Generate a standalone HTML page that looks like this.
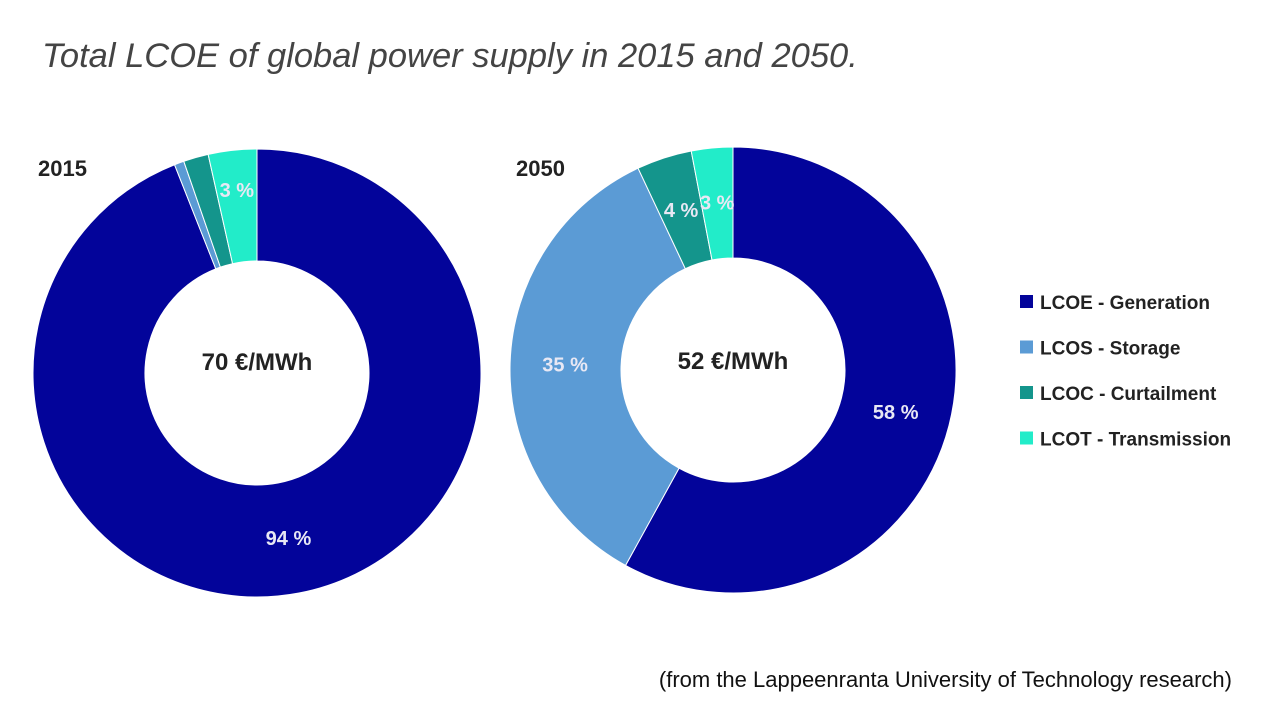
<!DOCTYPE html>
<html><head><meta charset="utf-8"><style>
body{margin:0;width:1280px;height:720px;background:#fff;overflow:hidden;font-family:"Liberation Sans",sans-serif}
</style></head><body>
<svg id="c" width="1280" height="720">
<text x="42" y="67" font-size="34.5" font-style="italic" fill="#444">Total LCOE of global power supply in 2015 and 2050.</text>
<text x="38" y="176" font-size="22" font-weight="bold" fill="#222">2015</text>
<text x="516" y="176" font-size="22" font-weight="bold" fill="#222">2050</text>
<text x="257" y="370" font-size="24" font-weight="bold" fill="#222" text-anchor="middle">70 €/MWh</text>
<text x="733" y="369" font-size="24" font-weight="bold" fill="#222" text-anchor="middle">52 €/MWh</text>
<text x="1232" y="687" font-size="22" fill="#111" text-anchor="end">(from the Lappeenranta University of Technology research)</text>
<g id="legend"></g>
</svg>
<script>
const categories=["LCOE - Generation","LCOS - Storage","LCOC - Curtailment","LCOT - Transmission"];
const colors=["#03049a","#5b9bd5","#14958c","#22ecc9"];
const values2015=[94,0.7,1.8,3.5];
const labels2015=["94 %","","","3 %"];
const values2050=[58,35,4,3];
const labels2050=["58 %","35 %","4 %","3 %"];
const NS="http://www.w3.org/2000/svg";
const svg=document.getElementById('c');
function donut(cx,cy,ro,ri,vals,labs,yr,smallR){
  const tot=vals.reduce((a,b)=>a+b,0);let a0=0;
  vals.forEach((v,i)=>{
    const a1=a0+v/tot*2*Math.PI;
    const p=(a,r)=>[cx+r*Math.sin(a),cy-r*Math.cos(a)];
    const [x1,y1]=p(a0,ro),[x2,y2]=p(a1,ro),[x3,y3]=p(a1,ri),[x4,y4]=p(a0,ri);
    const lg=(a1-a0)>Math.PI?1:0;
    const path=document.createElementNS(NS,'path');
    path.setAttribute('d',`M${x1},${y1}A${ro},${ro} 0 ${lg} 1 ${x2},${y2}L${x3},${y3}A${ri},${ri} 0 ${lg} 0 ${x4},${y4}Z`);
    path.setAttribute('fill',colors[i]);path.setAttribute('stroke','#fff');path.setAttribute('stroke-width','1');
    
    
    svg.appendChild(path);
    if(labs[i]){
      const am=(a0+a1)/2,rm=(v<6)?smallR:168;
      const [tx,ty]=p(am,rm);
      const t=document.createElementNS(NS,'text');
      t.setAttribute('x',tx);t.setAttribute('y',ty+7);t.setAttribute('text-anchor','middle');
      t.setAttribute('font-size','20');t.setAttribute('font-weight','bold');t.setAttribute('fill','#e8e8f4');
      t.textContent=labs[i];
      
      
      svg.appendChild(t);
    }
    a0=a1;
  });
}
donut(257,373,224,112,values2015,labels2015,'2015',184);
donut(733,370,223,112,values2050,labels2050,'2050',168);
const lg=document.getElementById('legend');
categories.forEach((c,i)=>{
  const y=302+i*45.5;
  const r=document.createElementNS(NS,'rect');
  r.setAttribute('x',1020);r.setAttribute('y',y-7);r.setAttribute('width',13);r.setAttribute('height',13);r.setAttribute('fill',colors[i]);
  
  
  lg.appendChild(r);
  const t=document.createElementNS(NS,'text');
  t.setAttribute('x',1040);t.setAttribute('y',y+7);t.setAttribute('font-size','19');t.setAttribute('font-weight','bold');t.setAttribute('fill','#222');
  t.textContent=c;
  
  
  lg.appendChild(t);
});
</script>
</body></html>
